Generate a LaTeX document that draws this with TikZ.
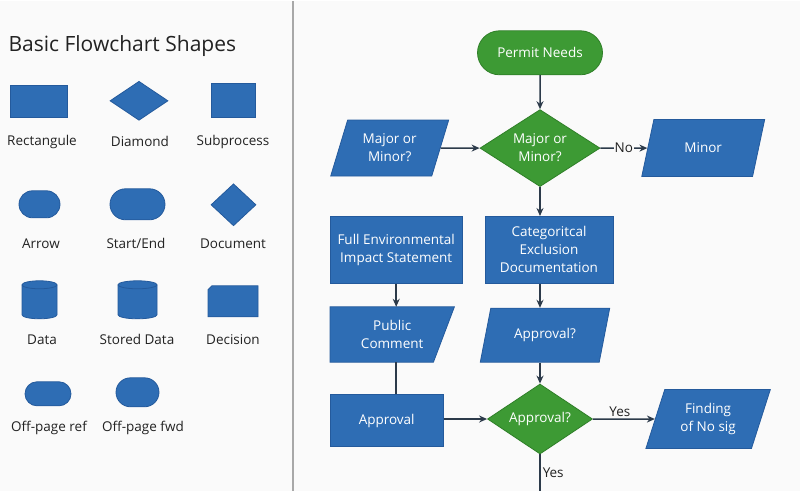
\documentclass[tikz,border=0pt]{standalone}
\usepackage{fontspec}
\setmainfont{Open Sans}
\usepackage{tikz}
\usetikzlibrary{positioning}
\usetikzlibrary{backgrounds}
\usetikzlibrary{shapes.geometric}
\usetikzlibrary{shapes.misc}
\usetikzlibrary{arrows.meta}

\definecolor{flowblue}{HTML}{2E6DB4}
\definecolor{blueline}{HTML}{245A9C}
\definecolor{flowgreen}{HTML}{3D9A34}
\definecolor{greenline}{HTML}{2F7F28}
\definecolor{linec}{HTML}{2C3A4A}
\definecolor{bgc}{HTML}{FAFAFA}
\definecolor{divc}{HTML}{A8A8A8}
\definecolor{textc}{HTML}{222222}

\begin{document}
\begin{tikzpicture}[
  x=1pt, y=-1pt,
  every node/.style={font=\fontsize{13.5}{18}\selectfont, text=textc},
  box/.style={
    draw=blueline, fill=flowblue, text=white, line width=0.8pt,
    align=center, inner sep=2pt
  },
  greenbox/.style={
    draw=greenline, fill=flowgreen, text=white, line width=0.8pt,
    align=center, inner sep=0pt
  },
  para/.style={
    box, trapezium, trapezium left angle=70, trapezium right angle=110,
    trapezium stretches=true
  },
  pill/.style={box, rounded rectangle},
  decide/.style={greenbox, diamond},
  arrow/.style={-{Stealth[length=8pt,width=7pt]}, line width=1.5pt, draw=linec},
  plain/.style={line width=1.5pt, draw=linec}
]

% Legend
\node[anchor=west, font=\fontsize{21}{24}\selectfont] (title) at (5,45) {Basic Flowchart Shapes};

\node[box, minimum width=57pt, minimum height=32pt] (rectS) at (38.5,101) {};
\node[box, diamond, inner sep=0pt, minimum width=58pt, minimum height=39pt] (diaS) at (139,100) {};
\node[box, minimum width=44pt, minimum height=34pt] (subS) at (233,100) {};

\node[pill, minimum width=45pt, minimum height=27pt] (arrS) at (39.5,203.5) {};
\node[pill, minimum width=59pt, minimum height=31pt] (seS) at (137.5,203.5) {};
\node[box, diamond, inner sep=0pt, minimum width=45pt, minimum height=42pt] (docS) at (233.5,204) {};

% cylinders
\filldraw[draw=blueline, fill=flowblue, line width=0.8pt]
  (22,284) -- (22,314) arc[start angle=180, end angle=360, x radius=17.5pt, y radius=4pt]
  -- (57,284) arc[start angle=0, end angle=180, x radius=17.5pt, y radius=4pt] -- cycle;
\draw[blueline, line width=0.8pt] (22,284) arc[start angle=180, end angle=360, x radius=17.5pt, y radius=4pt];
\filldraw[draw=blueline, fill=flowblue, line width=0.8pt]
  (118,284) -- (118,314) arc[start angle=180, end angle=360, x radius=19.5pt, y radius=4pt]
  -- (157,284) arc[start angle=0, end angle=180, x radius=19.5pt, y radius=4pt] -- cycle;
\draw[blueline, line width=0.8pt] (118,284) arc[start angle=180, end angle=360, x radius=19.5pt, y radius=4pt];

\node[box, chamfered rectangle, chamfered rectangle corners=north west,
  chamfered rectangle xsep=5pt, chamfered rectangle ysep=9pt,
  minimum width=50pt, minimum height=31pt] (decS) at (233,300.5) {};

\node[pill, minimum width=50pt, minimum height=24pt] (oprS) at (48,393) {};
\node[pill, minimum width=47pt, minimum height=29pt] (opfS) at (137.5,391.5) {};

\node (rectL) at (42,141) {Rectangule};
\node (diaL) at (140,141) {Diamond};
\node (subL) at (233,141) {Subprocess};
\node (arrL) at (41,243) {Arrow};
\node (seL) at (136,243) {Start/End};
\node (docL) at (233,243) {Document};
\node (dataL) at (42,339) {Data};
\node (sdL) at (137,339) {Stored Data};
\node (decL) at (233,339) {Decision};
\node (oprL) at (49,427) {Off-page ref};
\node (opfL) at (143,427) {Off-page fwd};

% Flowchart
\node[greenbox, rounded rectangle, minimum width=125pt, minimum height=44pt] (pn) at (540,52) {Permit Needs};
\node[decide, aspect=1.56, minimum width=120pt, minimum height=77pt, below=34pt of pn] (mm) {Major or\\Minor?};
\node[para, minimum width=119pt, minimum height=56pt, left=39pt of mm] (mq) {Major or\\Minor?};
\node[para, minimum width=123pt, minimum height=57pt, right=47pt of mm] (minor) {Minor};
\node[box, minimum width=128pt, minimum height=67pt, below=29pt of mm, xshift=9pt] (cat) {Categoritcal\\Exclusion\\Documentation};
\node[box, minimum width=132pt, minimum height=67pt, left=22pt of cat] (fei) {Full Environmental\\Impact Statement};
\node[text=white, align=center, minimum width=124pt, minimum height=55pt, inner sep=2pt,
  below=23pt of fei, xshift=-4pt] (pc) {Public\\Comment};
\node[box, minimum width=113pt, minimum height=52pt, below=32pt of pc, xshift=-5.5pt] (apr) {Approval};
\node[para, minimum width=130pt, minimum height=54pt, below=24pt of cat, xshift=-4pt] (apq) {Approval?};
\node[decide, aspect=1.5, minimum width=105pt, minimum height=70pt, below=21pt of apq, xshift=-5pt] (apd) {Approval?};
\node[para, minimum width=125pt, minimum height=59pt, right=62pt of apd] (fin) {Finding\\of No sig};
\coordinate (out) at (apd.south |- 0,490);

\begin{scope}[on background layer]
  % Background and divider
  \fill[bgc] (0,0) rectangle (800,490);
  \draw[divc, line width=1.6pt] (293,0) -- (293,490);
  % Public Comment shape
  \filldraw[draw=blueline, fill=flowblue, line width=0.8pt]
    (pc.north west) -- (pc.north east) -- ([xshift=-21pt]pc.south east) -- (pc.south west) -- cycle;
\end{scope}

% Arrows
\draw[arrow] (pn) -- (mm);
\draw[arrow] (mq) -- (mm);
\draw[arrow] (mm) -- (minor) node[midway, fill=bgc, inner sep=1pt] {No};
\draw[arrow] (mm) -- (mm |- cat.north);
\draw[arrow] (fei) -- (fei |- pc.north);
\draw[plain] (fei |- pc.south) -- (fei |- apr.north);
\draw[arrow] (mm |- cat.south) -- (mm |- apq.north);
\draw[arrow] (apd |- apq.south) -- (apd);
\draw[arrow] (apr.east |- apd) -- (apd);
\draw[arrow] (apd) -- (fin) node[midway, above, inner sep=2pt, xshift=-4pt] {Yes};
\draw[plain] (apd) -- (out) node[midway, right, inner sep=2pt] {Yes};
\end{tikzpicture}
\end{document}
